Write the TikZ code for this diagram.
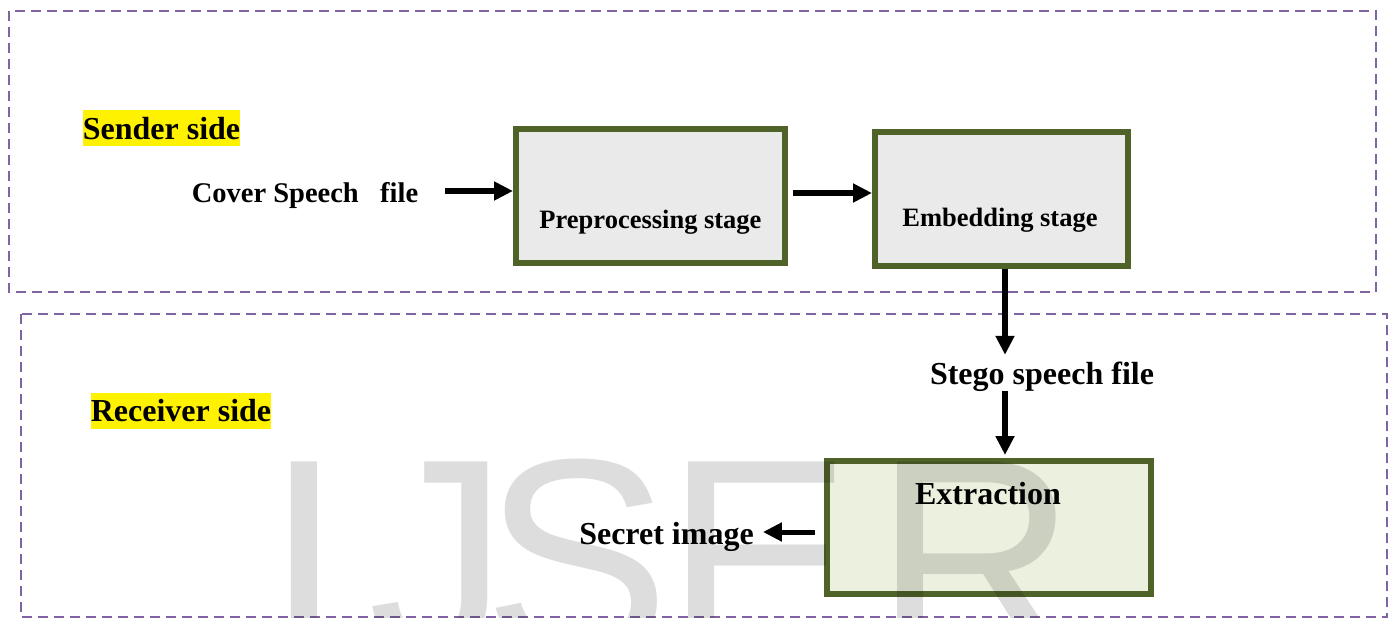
\documentclass[tikz,border=0pt]{standalone}
\usepackage{fontspec}
\setmainfont{Liberation Serif}
\newfontfamily\wmfont{Liberation Sans}
\usetikzlibrary{positioning,arrows.meta}
\definecolor{framepurple}{HTML}{8064A2}
\definecolor{stageolive}{HTML}{4F6228}
\definecolor{stagegray}{HTML}{EAEAEA}
\definecolor{extrgreen}{HTML}{EBF1DE}

\begin{document}
\begin{tikzpicture}[
    x=1pt, y=-1pt,
    sideframe/.style={draw=framepurple, line width=2.5pt, dash pattern=on 10pt off 6pt},
    sidelabel/.style={
        fill=yellow,
        inner sep=0pt,
        text height=29pt,
        text depth=7pt,
        font=\fontsize{32}{38}\selectfont\bfseries
    },
    plaintext/.style={inner sep=0pt, text height=29pt, text depth=7pt, font=\fontsize{32}{38}\selectfont\bfseries},
    stagebox/.style={draw=stageolive, line width=6pt, fill=stagegray, minimum height=134pt},
    stagetext/.style={font=\fontsize{26.5}{32}\selectfont\bfseries},
    flowarrow/.style={-{Triangle[length=19pt,width=18pt]}, line width=5.5pt},
    watermark/.style={text=black, text opacity=0.135, inner sep=0pt, anchor=base west, font=\wmfont\fontsize{280}{280}\selectfont}
]
    \useasboundingbox (0,0) rectangle (1395,618);
    \clip (0,0) rectangle (1395,618);

    % Sender and receiver frames
    \draw[sideframe] (9,11) rectangle (1376,292);
    \draw[sideframe] (21,314) rectangle (1387,617.5);

    % Side labels
    \node[sidelabel] (sender) at (161.5,128) {Sender side};
    \node[sidelabel] (receiver) at (181,410.5) {Receiver side};

    % Sender chain
    \node[plaintext, text height=26pt, text depth=6pt, font=\fontsize{28.5}{34}\selectfont\bfseries] (cover) at (305,192) {Cover Speech~~~file};
    \node[stagebox, minimum width=269pt,
        label={[stagetext, yshift=-26pt]center:Preprocessing stage}] (prep) at (650.5,196) {};
    \node[stagebox, minimum width=253pt,
        label={[stagetext, yshift=-21pt, xshift=-1.5pt]center:Embedding stage}] (emb) at (1001.5,199) {};

    % Receiver chain
    \node[plaintext] (stego) at (1042,373) {Stego speech file};
    \node[stagebox, fill=extrgreen, minimum width=324pt, minimum height=133pt,
        label={[font=\fontsize{32}{38}\selectfont\bfseries, yshift=34pt, xshift=-1pt]center:Extraction}] (extr) at (989,527.5) {};
    \node[plaintext] (secret) at (666.5,533) {Secret image};

    % Arrows
    \draw[flowarrow, shorten <=27pt] ([yshift=1pt]cover.east) -- ([yshift=1pt]cover.east -| prep.west);
    \draw[flowarrow, shorten <=5pt] ([yshift=3pt]prep.east) -- ([yshift=3pt]prep.east -| emb.west);
    \draw[flowarrow] ([xshift=3.5pt]emb.south) -- ([xshift=3.5pt]emb.south |- stego.north);
    \draw[flowarrow, shorten >=3pt] ([xshift=3.5pt]emb.south |- stego.south) -- ([xshift=3.5pt]emb.south |- extr.north);
    \draw[flowarrow, line width=5pt, shorten <=9pt, shorten >=9pt] ([yshift=1pt]extr.west |- secret.east) -- ([yshift=1pt]secret.east);

    % Watermark
    \foreach \ltr/\xo in {I/265,J/368,S/483,E/665,R/874}
        \node[watermark] (wm\ltr) at (\xo,654) {\ltr};
\end{tikzpicture}
\end{document}
